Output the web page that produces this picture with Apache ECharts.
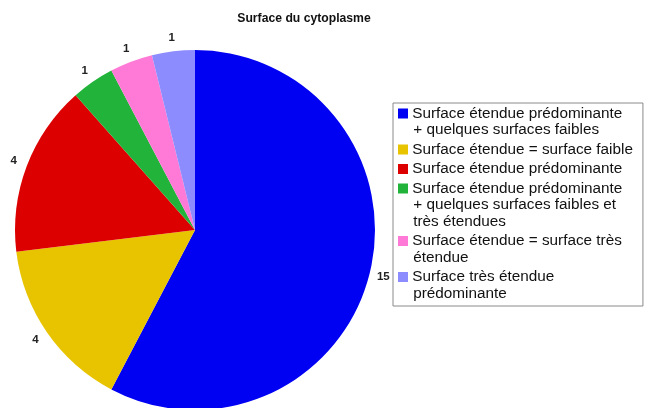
<!DOCTYPE html>
<html>
<head>
<meta charset="utf-8">
<script src="https://cdn.jsdelivr.net/npm/echarts@6/dist/echarts.min.js"></script>
<style>
  html, body { margin: 0; padding: 0; background: #fff; }
  #chart { width: 650px; height: 408px; }
</style>
</head>
<body>
<div id="chart"></div>
<script>
// categories (legend text, line breaks as in the original)
const categories = [
  'Surface étendue prédominante\n+ quelques surfaces faibles',
  'Surface étendue = surface faible',
  'Surface étendue prédominante',
  'Surface étendue prédominante\n+ quelques surfaces faibles et\ntrès étendues',
  'Surface étendue = surface très\nétendue',
  'Surface très étendue\nprédominante'
]
const counts = [15, 4, 4, 1, 1, 1]
const colors = ['#0000f2', '#e8c400', '#dd0000', '#22b33a', '#ff7ad6', '#8c8cff']

let chart = echarts.init(document.getElementById('chart'))

// legend: colour square sits on the first line, wrapped lines indented
let lh = 16.5
let rich = {
  t: { fontFamily: 'Liberation Sans', fontSize: 15.3, color: '#111', lineHeight: lh },
  ind: { width: 11, height: 10, lineHeight: lh }
}
colors.forEach((c, i) => {
  rich['b' + i] = { width: 10, height: 10, backgroundColor: c, lineHeight: lh }
})

let legendText = (name) => {
  let i = categories.indexOf(name)
  return name.split('\n').map((line, k) =>
    (k === 0 ? '{b' + i + '|}' : '{ind|}') + '{t| ' + line + '}'
  ).join('\n')
}

let sliceData = categories.map((name, i) => ({
  name: name,
  value: counts[i],
  itemStyle: { color: colors[i] }
}))

let option = {
  animation: false,
  title: {
    text: 'Surface du cytoplasme',
    left: 299,
    textAlign: 'center',
    top: 8,
    textStyle: {
      fontFamily: 'Liberation Sans',
      fontSize: 12.2,
      fontWeight: 'bold',
      color: '#111'
    }
  },
  legend: {
    orient: 'vertical',
    left: 393,
    top: 103,
    padding: [3, 10, 5, 0],
    backgroundColor: '#fff',
    borderColor: '#8a8a8a',
    borderWidth: 1,
    itemWidth: 0,
    itemHeight: 0,
    itemGap: 4.5,
    align: 'left',
    selectedMode: false,
    formatter: legendText,
    textStyle: { rich: rich },
    data: categories
  },
  series: [{
    type: 'pie',
    center: [195, 230],
    radius: 180,
    startAngle: 90,
    clockwise: true,
    label: { show: false },
    labelLine: { show: false },
    itemStyle: { borderWidth: 0 },
    emphasis: { disabled: true },
    data: sliceData
  }, {
    // invisible ring that only carries the value labels just outside the pie
    type: 'pie',
    center: [195, 230],
    radius: [182, 200],
    startAngle: 90,
    clockwise: true,
    silent: true,
    label: {
      show: true,
      position: 'inside',
      rotate: 0,
      formatter: '{c}',
      fontFamily: 'Liberation Sans',
      fontSize: 11.5,
      fontWeight: 'bold',
      color: '#222'
    },
    labelLine: { show: false },
    itemStyle: { color: 'rgba(0,0,0,0)', borderWidth: 0 },
    emphasis: { disabled: true },
    data: sliceData.map(d => ({ name: d.name, value: d.value, itemStyle: { color: 'rgba(0,0,0,0)' } }))
  }]
}

chart.setOption(option)
</script>
</body>
</html>
